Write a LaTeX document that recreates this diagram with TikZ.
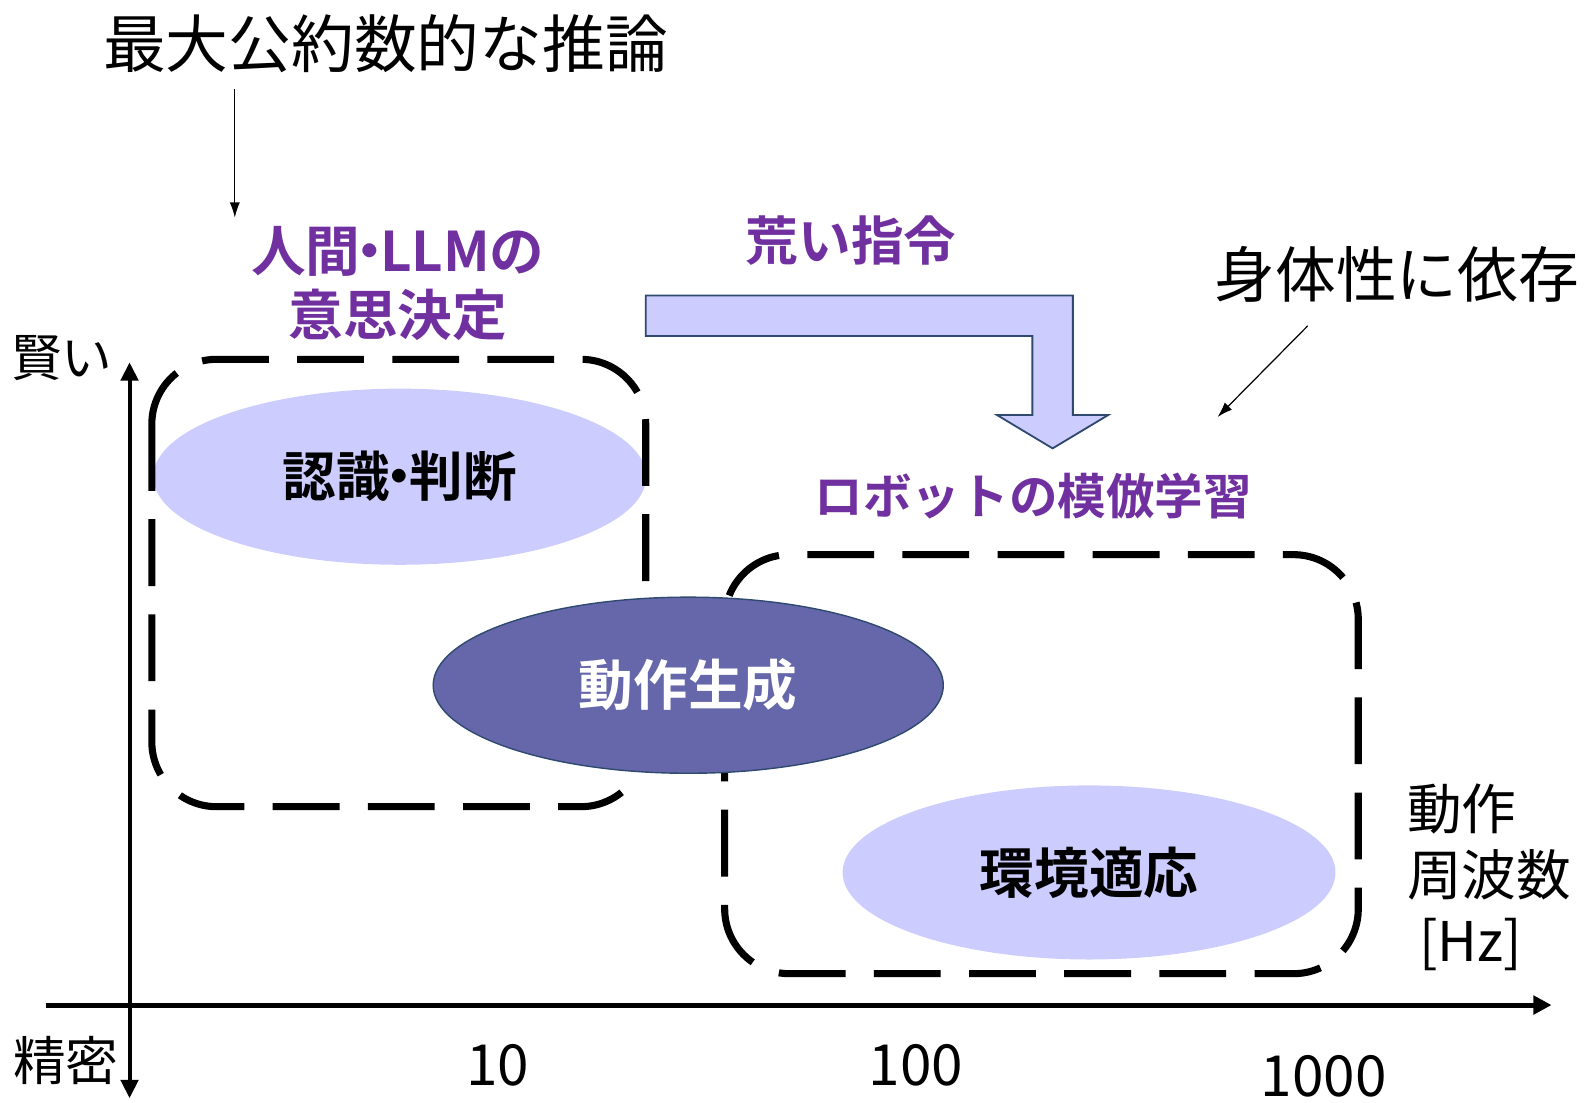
\documentclass[tikz,border=0pt]{standalone}
\usepackage{fontspec}
\setmainfont{Noto Sans CJK JP}[BoldFont={* Bold}]
\usetikzlibrary{shapes.geometric,arrows.meta}
\definecolor{purp}{HTML}{7030A0}
\definecolor{lightc}{HTML}{CCCCFF}
\definecolor{darkc}{HTML}{6667AB}
\definecolor{navy}{HTML}{2F4A6E}
\newcommand{\ndot}{\hspace{-0.32em}・\hspace{-0.32em}}
\tikzset{
  plain/.style={inner sep=0pt, text=black},
  purplabel/.style={inner sep=0pt, text=purp, font=\bfseries\fontsize{27}{31.5}\selectfont, align=center},
  oval/.style={ellipse, inner sep=0pt, fill=lightc, font=\bfseries\fontsize{26.5}{30}\selectfont},
  region/.style={line width=3.5pt, dash pattern=on 33pt off 14pt, rounded corners=32pt},
  thinarrow/.style={line width=0.6pt, -{Latex[length=7.5pt,width=5pt]}},
  axis/.style={line width=2pt},
}
\begin{document}
\begin{tikzpicture}[x=0.5pt,y=-0.5pt]
\useasboundingbox (0,0) rectangle (1568,1089);

% title and its arrow
\node[plain, font=\fontsize{31}{36}\selectfont] (title) at (381,43) {最大公約数的な推論};
\coordinate (ta) at (232,88);
\coordinate (tb) at (232,215);
\draw[thinarrow] (ta) -- (tb);

% purple labels
\node[purplabel] (human) at (393,280) {人間\ndot LLMの\\意思決定};
\node[purplabel, font=\bfseries\fontsize{26}{30}\selectfont] (coarse) at (841,238) {荒い指令};
\node[purplabel, font=\bfseries\fontsize{24}{28}\selectfont] (robot) at (1021,490) {ロボットの模倣学習};

% embodiment label and arrow
\node[plain, font=\fontsize{30}{34}\selectfont] (embod) at (1380,271) {身体性に依存};
\coordinate (ea) at (1292,322);
\coordinate (eb) at (1203,412);
\draw[thinarrow] (ea) -- (eb);

% bent arrow
\draw[fill=lightc, draw=navy, line width=0.9pt, line join=miter]
  (638,292) -- (1060,292) -- (1060,410) -- (1095,410) -- (1040,443)
  -- (985,410) -- (1020,410) -- (1020,332) -- (638,332) -- cycle;

% light ellipses
\node[oval, minimum width=243.5pt, minimum height=87pt] (recog) at (395,471) {認識\ndot 判断};
\node[oval, minimum width=243.5pt, minimum height=86pt, font=\bfseries\fontsize{27}{30}\selectfont] (env) at (1076,862) {環境適応};

% dashed regions
\draw[region] (150,355) rectangle (638,797);
\draw[region] (716,548) rectangle (1342,962);

% dark ellipse
\node[ellipse, inner sep=0pt, minimum width=252pt, minimum height=87pt, fill=darkc, draw=navy, line width=0.7pt, text=white, font=\bfseries\fontsize{27}{30}\selectfont] (motion) at (680,677) {動作生成};

% axes
\coordinate (ytop) at (128,358);
\coordinate (ybot) at (128,1085);
\coordinate (xl) at (45,993);
\coordinate (xr) at (1533,993);
\draw[axis, {Triangle[length=9pt,width=8.5pt]}-{Triangle[length=9pt,width=8.5pt]}] (ybot) -- (ytop);
\draw[axis, line width=2.5pt, -{Triangle[length=9pt,width=9pt]}] (xl) -- (xr);

% axis labels
\node[plain, font=\fontsize{25}{29}\selectfont] (smart) at (61,354) {賢い};
\node[plain, font=\fontsize{26}{30}\selectfont] (precise) at (65,1048) {精密};
\node[plain, font=\fontsize{28}{32}\selectfont] (t10) at (492,1053) {10};
\node[plain, font=\fontsize{28}{32}\selectfont] (t100) at (905,1053) {100};
\node[plain, font=\fontsize{28}{32}\selectfont] (t1000) at (1308,1063) {1000};
\node[plain, anchor=west, align=left, font=\fontsize{27}{32.5}\selectfont] (freq) at (1390,867) {動作\\周波数\\\hspace*{6pt}[Hz]};
\end{tikzpicture}
\end{document}
